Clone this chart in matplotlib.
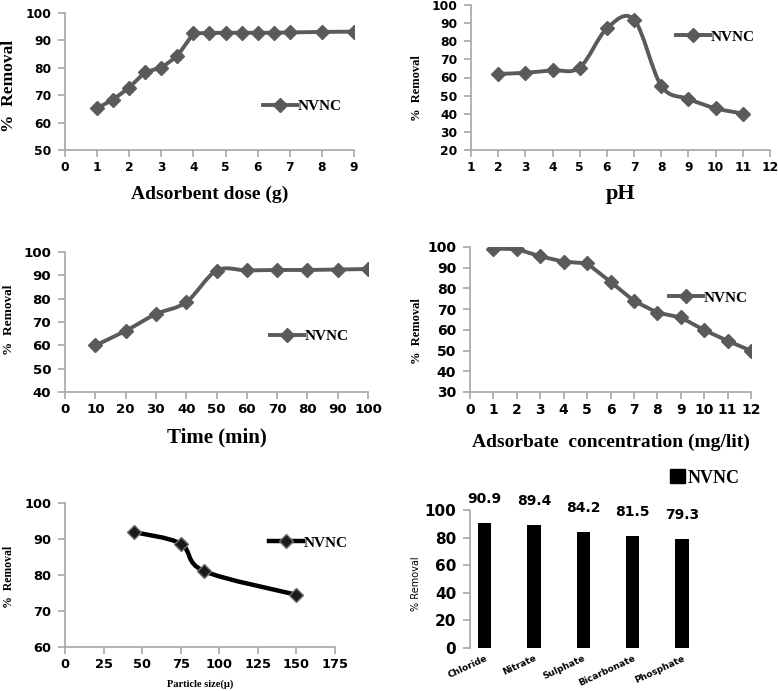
import numpy as np
import matplotlib
matplotlib.use("Agg")
import matplotlib.pyplot as plt
from matplotlib.path import Path
from matplotlib.patches import PathPatch, Patch
from matplotlib.lines import Line2D

# Data
dose_x = [1, 1.5, 2, 2.5, 3, 3.5, 4, 4.5, 5, 5.5, 6, 6.5, 7, 8, 9]
dose_y = [65.3, 68.4, 72.8, 78.5, 80.0, 84.3, 92.6, 92.7, 92.8, 92.8, 92.8, 92.8, 92.9, 93.1, 93.2]

ph_x = [2, 3, 4, 5, 6, 7, 8, 9, 10, 11]
ph_y = [62.0, 62.6, 64.0, 65.5, 87.1, 91.9, 55.4, 48.2, 43.0, 40.1]

time_x = [10, 20, 30, 40, 50, 60, 70, 80, 90, 100]
time_y = [60.0, 66.2, 73.4, 78.5, 92.0, 92.1, 92.3, 92.3, 92.5, 92.7]

conc_x = [1, 2, 3, 4, 5, 6, 7, 8, 9, 10, 11, 12]
conc_y = [99.2, 99.0, 95.5, 92.9, 92.1, 83.2, 74.0, 68.3, 66.0, 59.9, 54.7, 49.9]

size_x = [45, 75, 90, 150]
size_y = [91.9, 88.7, 81.1, 74.5]

anions = ["Chloride", "Nitrate", "Sulphate", "Bicarbonate", "Phosphate"]
anion_vals = [90.9, 89.4, 84.2, 81.5, 79.3]

plt.rcParams['font.family'] = ['DejaVu Sans']
plt.rcParams['font.weight'] = 'bold'

W, H = 778, 691
fig = plt.figure(figsize=(W / 100, H / 100), dpi=100)

GREY = '#5a5a5a'
SPINE = '#a6a6a6'
SERIF = 'Liberation Serif'


def add_axes(left, right, top, bottom):
    return fig.add_axes([left / W, 1 - bottom / H, (right - left) / W, (bottom - top) / H])


def style(ax, fs):
    for s in ['top', 'right']:
        ax.spines[s].set_visible(False)
    for s in ['left', 'bottom']:
        ax.spines[s].set_color(SPINE)
        ax.spines[s].set_linewidth(1.2)
    ax.tick_params(axis='both', colors=SPINE, labelcolor='black', labelsize=fs,
                   length=5, width=1.2)
    ax.tick_params(axis='y', pad=5)
    ax.tick_params(axis='x', pad=3)
    for t in ax.get_xticklabels() + ax.get_yticklabels():
        t.set_fontweight('bold')


def ylab(ax, text, fs, x, y, family=SERIF, weight='bold'):
    ax.set_ylabel(text, fontfamily=family, fontsize=fs, fontweight=weight)
    ax.yaxis.set_label_coords(x, y)


def smooth_path(x, y):
    # excel-like smoothed line as cubic bezier segments
    p = np.column_stack([x, y]).astype(float)
    pts = np.vstack([p[0], p, p[-1]])
    verts = [tuple(p[0])]
    codes = [Path.MOVETO]
    for i in range(1, len(pts) - 2):
        c1 = pts[i] + (pts[i + 1] - pts[i - 1]) / 6
        c2 = pts[i + 1] - (pts[i + 2] - pts[i]) / 6
        verts += [tuple(c1), tuple(c2), tuple(pts[i + 1])]
        codes += [Path.CURVE4] * 3
    return Path(verts, codes)


def series(ax, x, y, smooth=False, color=GREY, mfc=GREY, mec=GREY, lw=2.8):
    if smooth:
        ax.add_patch(PathPatch(smooth_path(x, y), fill=False, edgecolor=color,
                               lw=lw, capstyle='round', joinstyle='round', zorder=2))
        ax.plot(x, y, linestyle='none', marker='D', ms=6.8, mfc=mfc, mec=mec,
                mew=1, zorder=3)
    else:
        ax.plot(x, y, color=color, lw=lw, marker='D', ms=6.8, mfc=mfc, mec=mec,
                mew=1, zorder=3)
    h = Line2D([], [], color=color, lw=lw, marker='D', ms=6.8, mfc=mfc, mec=mec, mew=1)
    return h


def legend(ax, h, x, y, fs=11):
    ax.legend([h], ['NVNC'], loc='center left', bbox_to_anchor=(x, y),
              frameon=False, borderaxespad=0, borderpad=0, handlelength=2.2,
              handletextpad=0.05, prop={'family': SERIF, 'weight': 'bold', 'size': fs})


# Panel 1: adsorbent dose
ax1 = add_axes(65, 354, 13, 150)
h = series(ax1, dose_x, dose_y)
ax1.set_xlim(0, 9)
ax1.set_ylim(50, 100)
ax1.set_xticks(range(0, 10))
ax1.set_yticks(range(50, 101, 10))
style(ax1, 8.8)
legend(ax1, h, 0.685, 0.321)
ax1.set_xlabel('Adsorbent dose (g)', fontfamily=SERIF, fontsize=14, fontweight='bold', labelpad=8)
ylab(ax1, '%  Removal', 12.5, -0.165, 0.467)

# Panel 2: pH
ax2 = add_axes(471, 770, 5, 150)
h = series(ax2, ph_x, ph_y, smooth=True)
ax2.set_xlim(1, 12)
ax2.set_ylim(20, 100)
ax2.set_xticks(range(1, 13))
ax2.set_yticks(range(20, 101, 10))
style(ax2, 8.8)
legend(ax2, h, 0.686, 0.781)
ax2.set_xlabel('pH', fontfamily=SERIF, fontsize=16, fontweight='bold', labelpad=7)
ylab(ax2, '%  Removal', 9, -0.16, 0.43)

# Panel 3: time
ax3 = add_axes(65, 368, 252, 392)
h = series(ax3, time_x, time_y, smooth=True)
ax3.set_xlim(0, 100)
ax3.set_ylim(40, 100)
ax3.set_xticks(range(0, 101, 10))
ax3.set_yticks(range(40, 101, 10))
style(ax3, 9.6)
legend(ax3, h, 0.677, 0.399)
ax3.set_xlabel('Time (min)', fontfamily=SERIF, fontsize=15, fontweight='bold', labelpad=8)
ylab(ax3, '%  Removal', 9.5, -0.165, 0.514)

# Panel 4: adsorbate concentration
ax4 = add_axes(470, 751, 247, 392)
h = series(ax4, conc_x, conc_y)
ax4.set_xlim(0, 12)
ax4.set_ylim(30, 100)
ax4.set_xticks(range(0, 13))
ax4.set_yticks(range(30, 101, 10))
style(ax4, 10)
legend(ax4, h, 0.708, 0.649)
ax4.set_xlabel('Adsorbate  concentration (mg/lit)', fontfamily=SERIF, fontsize=14,
               fontweight='bold', labelpad=12)
ylab(ax4, '%  Removal', 9, -0.168, 0.42)

# Panel 5: particle size
ax5 = add_axes(65, 335, 503, 647)
h = series(ax5, size_x, size_y, smooth=True, color='black', mfc='#1a1a1a', mec='#6e6e6e', lw=3.2)
ax5.set_xlim(0, 175)
ax5.set_ylim(60, 100)
ax5.set_xticks(range(0, 176, 25))
ax5.set_yticks(range(60, 101, 10))
style(ax5, 9.4)
legend(ax5, h, 0.756, 0.723)
ax5.set_xlabel('Particle size(\u03bc)', fontfamily=SERIF, fontsize=7.5, fontweight='bold', labelpad=6)
ylab(ax5, '%  Removal', 8.5, -0.185, 0.486)

# Panel 6: co-existing anions
ax6 = add_axes(470, 746, 510, 648)
pos = np.arange(len(anions))
bars = ax6.bar(pos, anion_vals, width=0.27, color='black', zorder=2)
for b, v in zip(bars, anion_vals):
    ax6.annotate(f'{v}', (b.get_x() + b.get_width() / 2, v), xytext=(0, 17),
                 textcoords='offset points', ha='center', va='center',
                 fontsize=10, fontweight='bold')
ax6.set_xlim(-0.3, 5.3)
ax6.set_ylim(0, 100)
ax6.set_yticks(range(0, 101, 20))
ax6.set_xticks(pos)
ax6.set_xticklabels(anions, rotation=25, ha='right', rotation_mode='anchor')
style(ax6, 11)
ax6.tick_params(axis='x', length=0, labelsize=6.5, pad=4)
ax6.spines['bottom'].set_visible(False)
ylab(ax6, '% Removal', 7, -0.178, 0.464, family='DejaVu Sans', weight='normal')
ax6.legend([Patch(color='black')], ['NVNC'], loc='center left', bbox_to_anchor=(0.725, 1.232),
           frameon=False, borderaxespad=0, borderpad=0, handlelength=0.8, handleheight=0.8,
           handletextpad=0.15, prop={'family': SERIF, 'weight': 'bold', 'size': 13})

fig.savefig('out.png', dpi=100)
